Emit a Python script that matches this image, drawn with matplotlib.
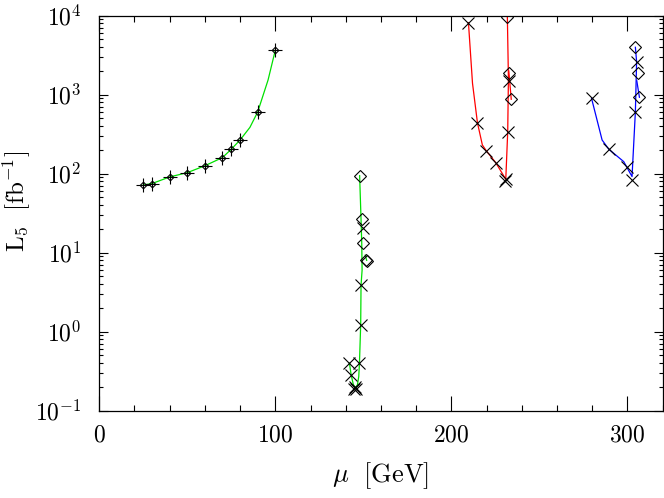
import math
import matplotlib
matplotlib.use("Agg")
import matplotlib.pyplot as plt
from matplotlib.ticker import FixedLocator, FuncFormatter, LogLocator, MultipleLocator

plt.rcParams['mathtext.fontset'] = 'cm'
plt.rcParams['font.family'] = ['DejaVu Serif']

# ---- data ----
# left green curve (diamond+cross markers)
left_mu = [25, 30, 40, 50, 60, 70, 75, 80, 90, 100]
left_L = [72, 75, 91, 103, 126, 160, 204, 267, 604, 3650]
left_line_mu = [25, 30, 40, 50, 60, 70, 75, 80, 85.6, 90, 95.9, 100]
left_line_L = [72, 75, 91, 103, 126, 160, 204, 267, 386, 604, 1535, 3650]

# middle green group
mid_x_mu = [149.6, 148.7, 148.5, 142.1, 147.8, 143.1, 144.6, 145.3, 146.0]
mid_x_L = [20.4, 3.9, 1.22, 0.40, 0.40, 0.283, 0.19, 0.20, 0.19]
mid_d_mu = [147.9, 149.1, 149.6, 151.6, 152.1]
mid_d_L = [94.4, 26.5, 13.2, 8.1, 7.8]
mid_line_mu = [142.1, 143.1, 144.3, 145.4, 146.6, 147.4, 147.8, 148.5, 148.7, 149.3, 149.1, 148.7, 147.9]
mid_line_L = [0.40, 0.283, 0.215, 0.195, 0.21, 0.27, 0.40, 1.22, 3.9, 6.0, 13.2, 26.5, 94.4]
mid_spur_mu = [151.1, 151.9]
mid_spur_L = [9.3, 8.0]

# red group
red_x_mu = [209.7, 214.8, 219.9, 225.2, 230.9, 230.3, 232.0, 232.7]
red_x_L = [8150, 442, 194, 138, 85, 82, 340, 1490]
red_d_mu = [231.8, 232.7, 233.9]
red_d_L = [9540, 1900, 875]
red_line_mu = [209.7, 212.0, 214.8, 217.6, 219.9, 225.2, 230.9, 232.0, 232.4, 231.8]
red_line_L = [8150, 1395, 442, 231, 194, 138, 85, 340, 1600, 9540]
red_spur_mu = [232.6, 234.0]
red_spur_L = [2000, 875]

# blue group
blue_x_mu = [279.6, 289.4, 299.8, 302.6, 304.5, 305.4]
blue_x_L = [900, 204, 123, 83, 609, 2620]
blue_d_mu = [304.5, 306.0, 306.8]
blue_d_L = [3980, 1900, 927]
blue_line_mu = [279.6, 285.6, 289.4, 297.9, 302.6, 304.5, 305.2, 304.5]
blue_line_L = [900, 267, 204, 142, 92, 609, 2620, 3980]
blue_spur_mu = [305.3, 306.8]
blue_spur_L = [1500, 927]

x_major = [0, 100, 200, 300]
y_decades = [-1, 0, 1, 2, 3, 4]

GREEN = '#00e000'
RED = '#ff0000'
BLUE = '#0000ff'

fig = plt.figure(figsize=(6.64, 4.98), dpi=100)
ax = fig.add_axes([0.1494, 0.1753, 0.8486, 0.7932])

lw = 0.9
ax.plot(left_line_mu, left_line_L, color=GREEN, lw=lw, zorder=1)
ax.plot(mid_line_mu, mid_line_L, color=GREEN, lw=lw, zorder=1)
ax.plot(mid_spur_mu, mid_spur_L, color=GREEN, lw=lw, zorder=1)
ax.plot(red_line_mu, red_line_L, color=RED, lw=lw, zorder=1)
ax.plot(red_spur_mu, red_spur_L, color=RED, lw=lw, zorder=1)
ax.plot(blue_line_mu, blue_line_L, color=BLUE, lw=lw, zorder=1)
ax.plot(blue_spur_mu, blue_spur_L, color=BLUE, lw=lw, zorder=1)

mk = dict(linestyle='none', color='black', zorder=3)
# left: diamond + cross
ax.plot(left_mu, left_L, marker='+', ms=9.5, mew=0.8, **mk)
ax.plot(left_mu, left_L, marker='D', ms=3.4, mew=0.8, mfc='none', **mk)

for xs, ys in [(mid_x_mu, mid_x_L), (red_x_mu, red_x_L), (blue_x_mu, blue_x_L)]:
    ax.plot(xs, ys, marker='x', ms=8.5, mew=0.8, **mk)
for xs, ys in [(mid_d_mu, mid_d_L), (red_d_mu, red_d_L), (blue_d_mu, blue_d_L)]:
    ax.plot(xs, ys, marker='D', ms=5.8, mew=0.8, mfc='none', **mk)

ax.set_yscale('log')
ax.set_xlim(0, 320)
ax.set_ylim(0.1, 1e4)

ax.xaxis.set_major_locator(FixedLocator(x_major))
ax.xaxis.set_minor_locator(MultipleLocator(20))
ax.xaxis.set_major_formatter(FuncFormatter(lambda v, p: r'$%d$' % int(round(v))))
ax.yaxis.set_major_locator(FixedLocator([10.0 ** d for d in y_decades]))
ax.yaxis.set_minor_locator(LogLocator(base=10, subs=range(2, 10), numticks=20))
ax.yaxis.set_major_formatter(FuncFormatter(
    lambda v, p: r'$10^{%d}$' % int(round(math.log10(v)))))
ax.yaxis.set_minor_formatter(FuncFormatter(lambda v, p: ''))

ax.tick_params(axis='x', which='major', direction='in', length=11, width=0.8,
               top=True, bottom=True, labelsize=17, pad=9)
ax.tick_params(axis='x', which='minor', direction='in', length=4, width=0.8,
               top=True, bottom=True)
ax.tick_params(axis='y', which='major', direction='in', length=6.5, width=0.8,
               left=True, right=True, labelsize=17, pad=13)
ax.tick_params(axis='y', which='minor', direction='in', length=3, width=0.8,
               left=True, right=True)
for s in ax.spines.values():
    s.set_linewidth(0.9)

ax.set_xlabel(r'$\mu\ \ [\mathrm{GeV}]$', fontsize=19)
ax.xaxis.set_label_coords(0.5, -0.125)
ax.set_ylabel(r'$\mathrm{L}_5\ \ [\mathrm{fb}^{-1}]$', fontsize=18)
ax.yaxis.set_label_coords(-0.118, 0.53)

fig.savefig('out.png', dpi=100)
